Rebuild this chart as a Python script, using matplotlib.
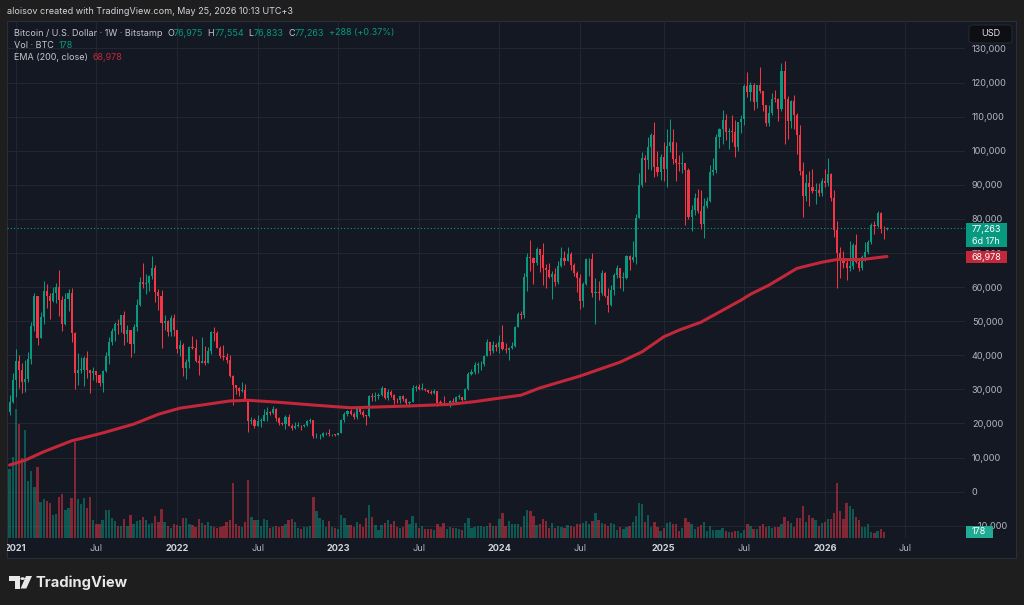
import numpy as np
import pandas as pd
import matplotlib
matplotlib.use("Agg")
import matplotlib.pyplot as plt
from matplotlib.patches import Rectangle, FancyBboxPatch, Polygon, Circle
from matplotlib.transforms import Bbox, TransformedBbox

plt.rcParams['font.family'] = ['Inter', 'DejaVu Sans']

W, H = 1024, 605

# weekly candles (thousands of USD), first week starts 2020-12-21
first_open = 23.5
closes = [
    26.4, 32.8, 38.2, 35.8, 32.3, 33.1, 38.9, 48.6, 57.5, 45.2,
    51.2, 59.0, 57.3, 55.8, 58.2, 59.9, 56.2, 49.1, 56.6, 58.2,
    46.4, 34.7, 35.7, 35.8, 39.1, 35.6, 34.7, 35.3, 34.2, 31.8,
    35.4, 39.9, 43.8, 47.1, 49.3, 48.8, 51.8, 46.1, 47.3, 43.2,
    48.2, 54.7, 61.5, 60.9, 61.3, 63.3, 65.5, 58.7, 57.3, 49.4,
    50.1, 46.7, 50.8, 47.3, 41.8, 43.1, 36.3, 37.9, 42.4, 42.2,
    38.4, 37.7, 38.4, 37.8, 41.3, 46.8, 46.4, 42.2, 39.7, 39.5,
    38.5, 34.0, 31.3, 30.3, 29.5, 29.9, 26.6, 20.6, 21.0, 19.3,
    20.8, 20.8, 22.6, 23.3, 23.2, 24.3, 21.5, 20.0, 19.8, 21.8,
    19.4, 18.8, 19.3, 19.4, 19.2, 19.6, 20.6, 20.9, 16.3, 16.3,
    16.4, 17.1, 17.1, 16.8, 16.8, 16.6, 17.1, 20.9, 22.7, 23.7,
    22.9, 21.8, 24.6, 23.5, 22.4, 22.1, 28.0, 27.9, 28.2, 28.3,
    30.3, 27.6, 29.2, 28.4, 27.0, 26.8, 28.1, 27.1, 25.9, 26.3,
    30.5, 30.6, 30.2, 30.2, 29.8, 29.3, 29.0, 29.4, 26.1, 26.0,
    25.8, 25.8, 26.5, 26.2, 27.9, 27.9, 27.0, 30.0, 34.5, 35.0,
    37.1, 37.4, 37.4, 39.9, 43.8, 41.4, 43.0, 42.3, 43.9, 41.8,
    41.6, 42.0, 42.6, 48.3, 52.1, 51.7, 63.1, 68.9, 68.4, 67.2,
    71.3, 69.4, 65.7, 64.9, 63.1, 63.9, 61.5, 66.3, 68.5, 67.7,
    69.6, 66.6, 64.2, 62.7, 55.9, 60.8, 68.2, 68.3, 58.2, 58.7,
    58.4, 64.2, 57.3, 54.8, 59.1, 63.6, 65.6, 62.8, 62.8, 69.0,
    67.9, 68.7, 80.4, 89.9, 97.9, 97.3, 101.2, 104.5, 95.2, 93.7,
    98.3, 94.5, 101.3, 102.6, 97.7, 96.5, 96.1, 96.3, 94.3, 80.7,
    82.6, 86.1, 82.4, 78.4, 83.7, 85.2, 93.7, 94.3, 104.1, 106.4,
    109.0, 105.6, 105.7, 105.5, 101.0, 108.3, 109.2, 119.1, 117.3, 119.4,
    114.2, 119.3, 117.4, 113.5, 108.2, 111.1, 115.3, 115.2, 112.1, 123.5,
    115.1, 108.6, 114.5, 110.5, 104.7, 94.0, 86.6, 90.4, 89.3, 88.2,
    88.6, 87.7, 91.1, 90.4, 93.2, 86.0, 76.7, 69.9, 68.0, 67.0,
    65.6, 66.2, 72.3, 67.4, 65.5, 68.7, 70.4, 73.3, 78.2, 77.9,
    81.8, 77.0, 76.975, 77.263,
]
highs = [
    28.4, 34.8, 41.9, 40.1, 37.8, 38.5, 40.9, 49.7, 58.3, 57.5,
    52.6, 61.8, 60.9, 58.3, 60.0, 61.2, 64.9, 57.5, 58.4, 59.5,
    59.6, 46.7, 40.8, 39.5, 39.9, 41.3, 35.7, 36.6, 35.3, 34.6,
    35.6, 40.9, 45.3, 48.1, 49.8, 50.5, 51.9, 52.9, 48.8, 47.3,
    49.2, 56.6, 62.9, 67.0, 63.7, 63.5, 69.0, 66.4, 59.4, 59.2,
    51.9, 50.3, 51.9, 52.1, 47.5, 44.5, 43.5, 38.9, 42.6, 45.8,
    44.7, 40.0, 45.4, 42.6, 42.4, 47.0, 48.2, 47.2, 42.8, 42.9,
    40.8, 40.0, 34.2, 31.4, 30.6, 32.2, 31.7, 26.9, 21.9, 21.5,
    22.5, 21.6, 24.3, 24.7, 23.6, 25.2, 24.5, 21.9, 20.5, 22.5,
    22.7, 19.7, 20.4, 20.4, 19.5, 19.7, 21.0, 21.5, 21.0, 17.2,
    16.8, 17.4, 17.4, 18.4, 17.0, 16.9, 17.2, 21.3, 23.3, 23.9,
    24.2, 23.4, 25.2, 25.0, 23.9, 22.6, 28.4, 28.9, 29.2, 28.8,
    31.0, 30.5, 30.0, 29.8, 28.6, 27.6, 28.2, 28.4, 27.4, 26.5,
    31.4, 31.3, 31.5, 31.8, 30.4, 29.9, 29.9, 30.2, 29.6, 26.8,
    28.1, 26.1, 26.9, 27.5, 28.0, 28.6, 27.9, 30.3, 35.2, 35.9,
    37.9, 37.9, 38.4, 40.2, 44.7, 44.0, 44.3, 43.7, 45.9, 49.0,
    43.6, 42.3, 43.9, 48.6, 52.8, 52.9, 64.0, 70.1, 73.8, 68.9,
    71.7, 71.3, 72.8, 66.8, 67.2, 64.7, 65.5, 67.7, 71.9, 70.6,
    71.9, 70.2, 67.0, 64.6, 63.8, 61.4, 68.4, 68.5, 70.0, 62.7,
    61.8, 64.9, 64.5, 59.8, 60.6, 64.0, 66.5, 65.6, 64.4, 69.4,
    69.5, 73.6, 81.5, 93.5, 99.6, 98.7, 104.0, 105.2, 108.3, 99.9,
    98.9, 102.7, 106.3, 109.4, 106.5, 102.5, 98.8, 99.5, 96.5, 95.0,
    84.0, 87.5, 88.8, 88.5, 86.1, 86.5, 95.8, 97.9, 104.9, 106.7,
    112.0, 110.7, 106.8, 110.6, 108.9, 108.5, 110.5, 119.5, 123.2, 120.2,
    119.8, 119.4, 124.5, 117.6, 113.5, 113.4, 116.8, 117.9, 115.4, 125.6,
    126.2, 116.0, 114.9, 116.4, 111.2, 107.5, 96.6, 93.1, 94.1, 94.6,
    90.4, 90.6, 91.9, 94.6, 97.8, 93.6, 88.6, 79.3, 71.8, 70.5,
    68.2, 73.6, 73.0, 75.5, 68.0, 69.5, 73.3, 73.8, 78.8, 79.5,
    82.4, 82.0, 78.0, 77.554,
]
lows = [
    22.4, 25.9, 27.7, 30.4, 28.8, 29.2, 32.3, 37.4, 47.1, 43.0,
    45.0, 49.3, 53.9, 50.5, 55.5, 55.4, 51.5, 47.0, 48.8, 53.0,
    43.8, 30.0, 31.2, 34.8, 31.0, 33.3, 28.8, 32.7, 32.1, 31.0,
    29.3, 35.2, 37.5, 43.0, 44.2, 46.3, 46.9, 43.0, 44.0, 39.6,
    40.8, 47.1, 54.4, 59.7, 57.9, 59.0, 62.3, 55.6, 53.3, 42.0,
    47.3, 45.6, 45.6, 45.7, 40.6, 39.7, 34.0, 32.9, 36.3, 41.7,
    38.0, 34.3, 37.6, 37.1, 37.6, 40.5, 44.2, 42.0, 39.2, 38.5,
    37.6, 33.7, 25.4, 28.7, 28.0, 29.3, 26.5, 17.6, 19.8, 18.6,
    19.3, 18.9, 20.8, 20.7, 22.4, 22.7, 20.8, 19.6, 19.6, 18.5,
    19.3, 18.1, 18.5, 19.0, 18.2, 18.9, 19.2, 20.1, 15.6, 15.8,
    15.5, 16.0, 16.7, 16.4, 16.3, 16.3, 16.5, 17.1, 20.4, 22.3,
    22.6, 21.4, 21.4, 22.8, 21.9, 19.6, 21.9, 26.6, 26.5, 27.3,
    28.2, 27.1, 26.9, 27.7, 25.8, 26.1, 26.1, 26.6, 25.4, 24.8,
    26.3, 29.5, 29.7, 29.9, 29.5, 28.9, 28.6, 28.7, 25.2, 25.8,
    25.4, 25.4, 24.9, 26.0, 26.1, 27.2, 26.5, 26.9, 29.9, 34.1,
    34.5, 34.8, 35.6, 36.9, 39.9, 40.2, 40.6, 41.4, 40.8, 41.5,
    40.6, 38.5, 41.9, 42.3, 48.2, 50.6, 50.9, 59.0, 64.6, 60.8,
    66.4, 64.5, 60.7, 59.6, 62.8, 56.5, 60.2, 60.8, 66.0, 66.6,
    67.6, 65.1, 63.4, 58.5, 53.5, 54.3, 60.6, 63.4, 57.2, 49.1,
    56.1, 57.8, 57.2, 52.6, 54.6, 57.6, 62.7, 59.8, 58.9, 62.4,
    65.1, 67.5, 66.8, 80.2, 89.4, 90.8, 94.5, 94.3, 92.2, 92.5,
    91.5, 91.2, 89.3, 99.5, 96.0, 91.2, 94.1, 93.4, 78.2, 80.1,
    76.6, 81.2, 81.6, 77.1, 74.5, 83.1, 85.1, 92.8, 93.4, 100.8,
    102.1, 103.1, 100.4, 102.7, 98.2, 100.0, 105.1, 107.5, 115.7, 114.7,
    111.9, 112.6, 116.8, 111.7, 107.3, 107.3, 110.6, 114.4, 108.6, 111.6,
    102.0, 103.5, 106.6, 106.3, 99.0, 93.0, 80.6, 85.3, 83.8, 87.5,
    84.4, 86.6, 86.8, 89.5, 89.8, 85.3, 74.8, 59.6, 62.6, 65.5,
    62.0, 64.8, 65.4, 67.0, 64.6, 65.0, 67.8, 69.8, 72.5, 75.5,
    77.6, 76.0, 74.0, 76.833,
]
# weekly volume, thousands of BTC
volumes = [
    34.5, 40.5, 64.5, 57, 40, 54, 28.5, 33.5, 25.5, 35.5,
    18, 19.5, 18.5, 17.5, 11.5, 12, 20.5, 22, 14, 15,
    20, 48, 19.5, 17, 20, 15, 20.5, 9, 7, 7,
    9, 14, 14, 10, 8.5, 6, 6, 9.5, 6, 11.5,
    7, 8.5, 9, 10.5, 9, 7, 7.5, 11, 8, 14.5,
    8, 6, 5, 7, 6.5, 6, 10, 10, 7, 6.5,
    5.5, 9.5, 7.5, 6.5, 8, 6, 5.5, 5, 5.5, 6,
    8, 9, 27.5, 7, 6, 5.5, 8, 29, 10.5, 9,
    9, 6, 9.5, 9, 5, 5.5, 6, 5.5, 6, 7,
    9, 9.5, 8, 5, 4.5, 5.5, 5.5, 6, 20.5, 13.5,
    10, 9, 5.5, 8.5,
    5.5, 5, 4.5, 11.5, 10, 6.5, 6.5, 5.5, 8, 7,
    5.5, 10, 16.5, 10.5, 6.5, 4, 6.5, 7.5, 9, 7,
    8.5, 5.5, 5, 5.5, 9, 7, 11, 7.5, 5, 6,
    4.5, 4.5, 4.5, 4, 7, 5.5, 7.5, 4.5, 5.5, 5,
    5, 4.5, 4, 7.5, 10, 5, 5.5, 6, 6, 5.5,
    6, 7.5, 6, 6, 9.5, 12.5, 6, 8.5, 7, 7,
    7, 5.5, 11, 14, 13.5, 11, 6.5, 7, 9.5, 8.5,
    5, 7.5, 5, 6, 5.5, 5, 6.5, 6, 5.5, 7,
    7, 7.5, 8.5, 7, 8.5, 12.5, 9, 7.5, 7, 6,
    7.5, 7, 4, 5.5, 4.5, 5.5, 6, 8, 11, 17.5,
    17, 8, 11.5, 5.5, 8, 5.5, 3.5, 5, 7.5, 8,
    7, 7, 3.5, 5, 10, 8, 7, 4.5, 5.5, 6.5,
    8, 3.5, 6, 4, 4, 4, 5, 3.5, 3, 3,
    3.5, 3.5, 2.5, 4, 7, 6, 4.5, 4.5, 6, 7,
    5.5, 6, 5, 5.5, 5.5, 7, 10.5, 8.5, 7.5, 5.5,
    10, 10, 16, 8, 11.5, 10, 9, 6, 7.5, 8,
    9.5, 9.5, 12.5, 27.5, 13.5, 9.5, 17.5, 16, 14.5, 10.5,
    9, 5.5, 5.5, 7, 3, 2.5, 3.5, 4.5, 3, 0.178,
]
# EMA(200): bar index -> value (thousands USD)
ema_idx = [0, 5, 11, 20, 30, 40, 48, 55, 62, 71, 77, 87, 98, 110, 128, 142, 150,
           157, 165, 171, 184, 197, 204, 211, 216, 223, 236, 239, 245, 254, 262,
           267, 275, 283]
ema_val = [7.8, 9.2, 11.7, 14.9, 17.2, 19.8, 22.7, 24.5, 25.4, 26.6, 26.8, 26.2,
           25.4, 24.6, 25.1, 25.6, 26.4, 27.3, 28.3, 30.4, 33.9, 38.0, 41.0, 45.4,
           47.4, 49.7, 56.2, 57.9, 60.6, 65.5, 67.3, 68.1, 68.1, 68.978]

price_ticks = list(range(-10000, 130001, 10000))

UP = '#089981'
DOWN = '#f23645'
EMA_C = '#c2283a'
BG_OUT = '#1e1e1e'
BG = '#141823'
GRID = '#22263199'
TXT = '#b2b5be'
LEG = '#c4c6cc'

c = np.array(closes) * 1000
h = np.array(highs) * 1000
l = np.array(lows) * 1000
o = np.concatenate([[first_open * 1000], c[:-1]])
v = np.array(volumes)
x = np.arange(len(c))
dates = pd.date_range('2020-12-21', periods=len(c), freq='W-MON')
up = c >= o

fig = plt.figure(figsize=(W / 100, H / 100), dpi=100, facecolor=BG_OUT)


def fx(px):
    return px / W


def fy(py):
    return 1 - py / H


# pane background and border
fig.add_artist(Rectangle((fx(7), fy(558)), fx(1009), 537 / H, transform=fig.transFigure,
                         facecolor=BG, edgecolor='#2a2e39', lw=0.8, zorder=-10))

rect = [fx(7), fy(538), fx(965 - 7), (538 - 21) / H]
xlim = (-0.84, 308.2)
ylim = (-13600, 138060)

ax_bg = fig.add_axes(rect)
ax_vol = fig.add_axes(rect)
ax = fig.add_axes(rect)
for a in (ax_bg, ax_vol, ax):
    a.set_xlim(*xlim)
    a.patch.set_visible(False)
    for s in a.spines.values():
        s.set_visible(False)
ax_bg.set_ylim(*ylim)
ax.set_ylim(*ylim)
ax_vol.set_ylim(0, 258.5)
ax_vol.set_xticks([])
ax_vol.set_yticks([])
ax.set_xticks([])
ax.set_yticks([])

# time ticks at first bar of January / July
tick_pos, tick_lab, tick_year = [], [], []
for i in range(len(dates)):
    d = dates[i]
    prev = dates[i - 1] if i > 0 else d - pd.Timedelta(days=7)
    if d.month in (1, 7) and prev.month != d.month:
        tick_pos.append(i)
        tick_year.append(d.month == 1)
        tick_lab.append(str(d.year) if d.month == 1 else 'Jul')
# July 2026 lies beyond the last bar
tick_pos.append(len(dates) - 1 + 6)
tick_lab.append('Jul')
tick_year.append(False)

ax_bg.set_xticks(tick_pos)
ax_bg.set_xticklabels(tick_lab)
ax_bg.yaxis.tick_right()
ax_bg.set_yticks(price_ticks)
ax_bg.set_yticklabels([f"{t:,}".replace('-', '\u2212') for t in price_ticks])
ax_bg.tick_params(axis='both', length=0, colors=TXT, labelsize=6.6)
ax_bg.tick_params(axis='x', pad=4)
ax_bg.tick_params(axis='y', pad=5)
ax_bg.grid(True, color=GRID, lw=0.8)
ax_bg.set_axisbelow(True)
clip = TransformedBbox(Bbox([[fx(7), 0], [fx(965), 1]]), fig.transFigure)
for lab, yr in zip(ax_bg.get_xticklabels(), tick_year):
    if yr:
        lab.set_fontweight('bold')
        lab.set_color('#d1d4dc')
    lab.set_clip_box(clip)
    lab.set_clip_on(True)

# volume
vcol = np.where(up, UP + '80', DOWN + '80')
ax_vol.bar(x, v, width=0.72, color=vcol, linewidth=0)

# candles
col = np.where(up, UP, DOWN)
ax.vlines(x, l, h, colors=col, lw=0.75, zorder=2)
body_lo = np.minimum(o, c)
body_h = np.maximum(np.abs(c - o), 150)
ax.bar(x, body_h, bottom=body_lo, width=0.66, color=col, linewidth=0, zorder=3)

# EMA
ax.plot(ema_idx, np.array(ema_val) * 1000, color=EMA_C, lw=2.2, solid_capstyle='round',
        solid_joinstyle='round', zorder=4)

# last price line
ax.axhline(c[-1], color=UP, lw=0.8, ls=(0, (1, 2)), zorder=1)

fig.canvas.draw()
renderer = fig.canvas.get_renderer()


def runs(x0, y0, parts, size):
    xx = x0
    for txt, color, g in parts:
        xx += g
        t = fig.text(fx(xx), fy(y0), txt, color=color, fontsize=size, va='center', ha='left')
        xx += t.get_window_extent(renderer).width


runs(7, 11.5, [("aloisov created with TradingView.com, May 25, 2026 10:13 UTC+3", '#d1d4dc', 0)], 6.5)
runs(14, 33, [("Bitcoin / U.S. Dollar \u00b7 1W \u00b7 Bitstamp", LEG, 0),
              ("O", LEG, 4.5), (f"{o[-1]:,.0f}", UP, 0),
              ("H", LEG, 4.5), (f"{h[-1]:,.0f}", UP, 0),
              ("L", LEG, 4.5), (f"{l[-1]:,.0f}", UP, 0),
              ("C", LEG, 4.5), (f"{c[-1]:,.0f}", UP, 0),
              (f"+{c[-1] - o[-1]:,.0f} (+{(c[-1] - o[-1]) / o[-1] * 100:.2f}%)", UP, 4.5)], 6.5)
runs(14, 45, [("Vol \u00b7 BTC", LEG, 0), (f"{v[-1] * 1000:.0f}", UP, 5)], 6.5)
runs(14, 57.5, [("EMA (200, close)", LEG, 0), (f"{ema_val[-1] * 1000:,.0f}", EMA_C, 5)], 6.5)


def label_box(x0, y0, x1, y1, color, lines):
    fig.add_artist(Rectangle((fx(x0), fy(y1)), (x1 - x0) / W, (y1 - y0) / H,
                             transform=fig.transFigure, facecolor=color, edgecolor='none', zorder=5))
    n = len(lines)
    for k, s in enumerate(lines):
        yy = y0 + (y1 - y0) * (k + 0.5) / n
        fig.text(fx(x0 + 5.5), fy(yy), s, color='white', fontsize=6.5, va='center', ha='left', zorder=6)


label_box(966, 223, 1007, 247, UP, [f"{c[-1]:,.0f}", "6d 17h"])
label_box(966, 251, 1007, 263, EMA_C, [f"{ema_val[-1] * 1000:,.0f}"])
label_box(966, 526, 993, 538, '#22ab94', [f"{v[-1] * 1000:.0f}"])

# USD box
fig.add_artist(FancyBboxPatch((fx(969), fy(43)), 43 / W, 18 / H, boxstyle='round,pad=0,rounding_size=0.004',
                              transform=fig.transFigure, facecolor='#0e0f12', edgecolor='#2a2e39',
                              lw=0.6, zorder=5))
fig.text(fx(990.5), fy(34), "USD", color='#e0e3eb', fontsize=6.6, va='center', ha='center', zorder=6)

# TradingView logo
LOGO = '#e8e8e8'
fig.add_artist(Polygon([(fx(8.5), fy(576)), (fx(19.5), fy(576)), (fx(19.5), fy(588.5)),
                        (fx(15), fy(588.5)), (fx(15), fy(580.5)), (fx(8.5), fy(580.5))],
                       closed=True, transform=fig.transFigure, facecolor=LOGO, edgecolor='none'))
fig.add_artist(Circle((fx(22.6), fy(578.6)), 2.3 / W, transform=fig.transFigure,
                      facecolor=LOGO, edgecolor='none'))
fig.add_artist(Polygon([(fx(26), fy(576)), (fx(32), fy(576)), (fx(26.3), fy(588.5)), (fx(20.6), fy(588.5))],
                       closed=True, transform=fig.transFigure, facecolor=LOGO, edgecolor='none'))
fig.text(fx(36), fy(582.5), "TradingView", color=LOGO, fontsize=10.6, fontweight='bold',
         va='center', ha='left')

fig.savefig('out.png', dpi=100, facecolor=BG_OUT)
